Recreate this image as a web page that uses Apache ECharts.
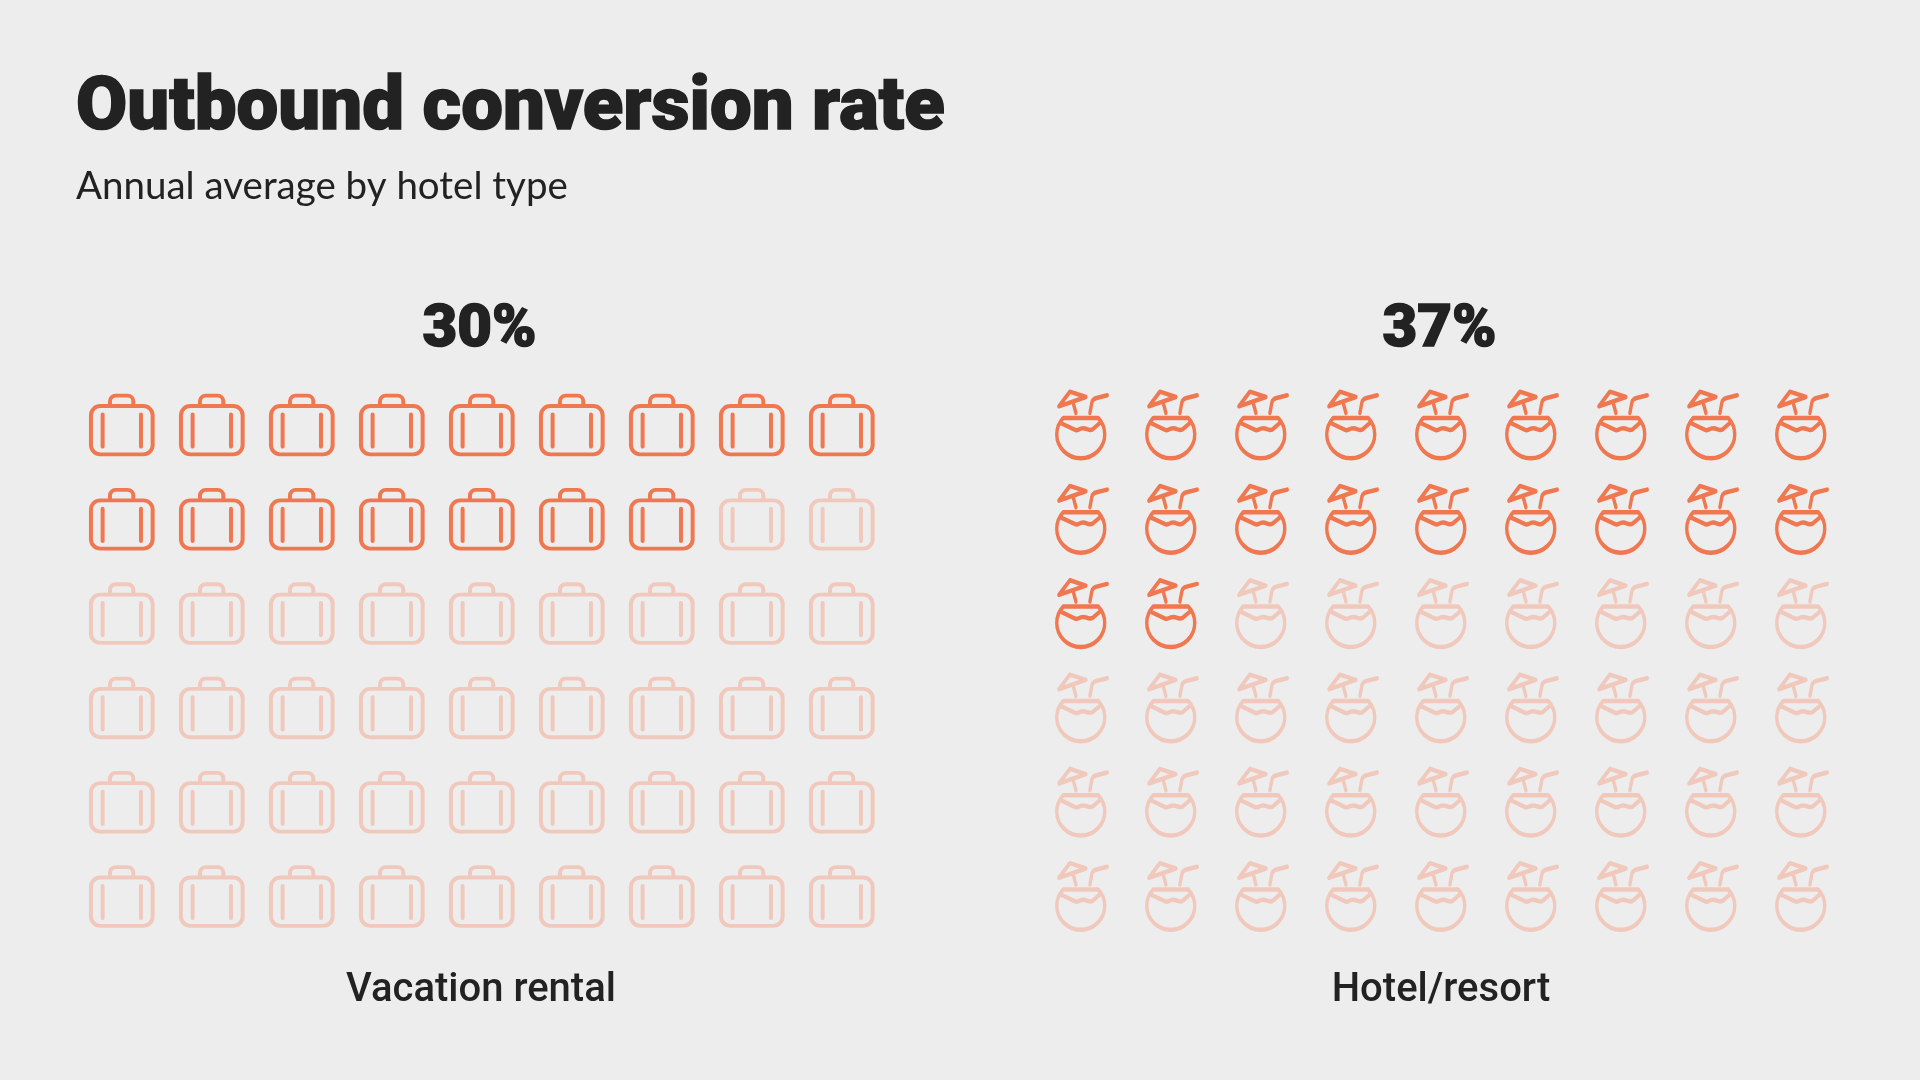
<!DOCTYPE html>
<html>
<head>
<meta charset="utf-8">
<title>Outbound conversion rate</title>
<script src="https://cdn.jsdelivr.net/npm/echarts@6/dist/echarts.min.js"></script>
<style>
    html, body { margin: 0; padding: 0; background: #ededed; }
    #main { width: 1920px; height: 1080px; }
</style>
</head>
<body>
<div id="main"></div>
<script>
var panelNames = ['Vacation rental', 'Hotel/resort'];
var percents = [30, 37];
var filledCounts = [16, 20];   // icons lit out of 54
var colLabels = ['1', '2', '3', '4', '5', '6', '7', '8', '9'];
var rowLabels = ['1', '2', '3', '4', '5', '6'];

var briefcasePath = 'path://M121 78 L250 78 A28 28 0 0 1 278 106 L278 195 A28 28 0 0 1 250 223 L121 223 A28 28 0 0 1 93 195 L93 106 A28 28 0 0 1 121 78 Z ' +
    'M150 78 L150 64 A17 17 0 0 1 167 47 L203 47 A17 17 0 0 1 220 64 L220 78 ' +
    'M128 103 L128 200 M243 103 L243 200';
var coconutPath = 'path://M70 115 L175 115 C187.4 128.3 194.5 145.8 194.5 164 C194.5 203.8 162.3 236 122.5 236 C82.7 236 50.5 203.8 50.5 164 C50.5 145.8 57.6 128.3 70 115 Z ' +
    'M62 130 L104 150 Q110 153 116 150 Q128 143 140 148 Q150 153 158 149 L180 130 ' +
    'M57 80 L90 36 L138 52 Z M100 70 L108 100 ' +
    'M150 100 L156 68 Q158 58 170 55 L202 47';

var ACTIVE = '#ef7850';
var FAINT = '#f0c9bc';
var TEXT = '#222222';

function cells(from, to) {
    var out = [];
    for (var i = from; i < to; i++) {
        out.push([colLabels[i % colLabels.length], rowLabels[Math.floor(i / colLabels.length)]]);
    }
    return out;
}

function iconSeries(idx, data, color, path, size) {
    return {
        type: 'scatter',
        xAxisIndex: idx,
        yAxisIndex: idx,
        data: data,
        symbol: path,
        symbolSize: size,
        clip: false,
        silent: true,
        itemStyle: {
            color: 'transparent',
            borderColor: color,
            borderWidth: 3.9,
            borderCap: 'round',
            borderJoin: 'round',
            opacity: 1
        }
    };
}

// heavy text: the installed Roboto stops short of the reference's weight, so add a thin outline
function heavyText(size, outline) {
    return {
        fontFamily: 'Roboto', fontWeight: 900, fontSize: size, color: TEXT,
        textBorderColor: TEXT, textBorderWidth: outline
    };
}

var total = colLabels.length * rowLabels.length;
var sizes = [[61.7, 58.7], [50.5, 66.7]];
var paths = [briefcasePath, coconutPath];
var series = [];
for (var p = 0; p < 2; p++) {
    series.push(iconSeries(p, cells(filledCounts[p], total), FAINT, paths[p], sizes[p]));
    series.push(iconSeries(p, cells(0, filledCounts[p]), ACTIVE, paths[p], sizes[p]));
}

var chart = echarts.init(document.getElementById('main'));
chart.setOption({
    backgroundColor: '#ededed',
    animation: false,
    title: [
        {
            text: 'Outbound conversion rate',
            left: 76, top: 73, padding: 0,
            textStyle: heavyText(74.3, 1.5)
        },
        {
            text: 'Annual average by hotel type',
            left: 76, top: 167, padding: 0,
            textStyle: { fontFamily: 'Lato', fontWeight: 400, fontSize: 38.5, color: TEXT }
        },
        {
            text: percents[0] + '%',
            left: 479.5, top: 301, padding: 0, textAlign: 'center',
            textStyle: heavyText(60, 1.5)
        },
        {
            text: percents[1] + '%',
            left: 1439.5, top: 301, padding: 0, textAlign: 'center',
            textStyle: heavyText(60, 1.5)
        },
        {
            text: panelNames[0],
            left: 481, top: 971, padding: 0, textAlign: 'center',
            textStyle: { fontFamily: 'Roboto', fontWeight: 500, fontSize: 40, color: TEXT }
        },
        {
            text: panelNames[1],
            left: 1441, top: 971, padding: 0, textAlign: 'center',
            textStyle: { fontFamily: 'Roboto', fontWeight: 500, fontSize: 40, color: TEXT }
        }
    ],
    grid: [
        { left: 121.8, top: 425, width: 720, height: 471.5 },
        { left: 1082, top: 425, width: 720, height: 471.5 }
    ],
    xAxis: [0, 1].map(function (i) {
        return { gridIndex: i, type: 'category', data: colLabels, boundaryGap: false, show: false };
    }),
    yAxis: [0, 1].map(function (i) {
        return { gridIndex: i, type: 'category', data: rowLabels, boundaryGap: false, inverse: true, show: false };
    }),
    series: series
});
</script>
</body>
</html>
